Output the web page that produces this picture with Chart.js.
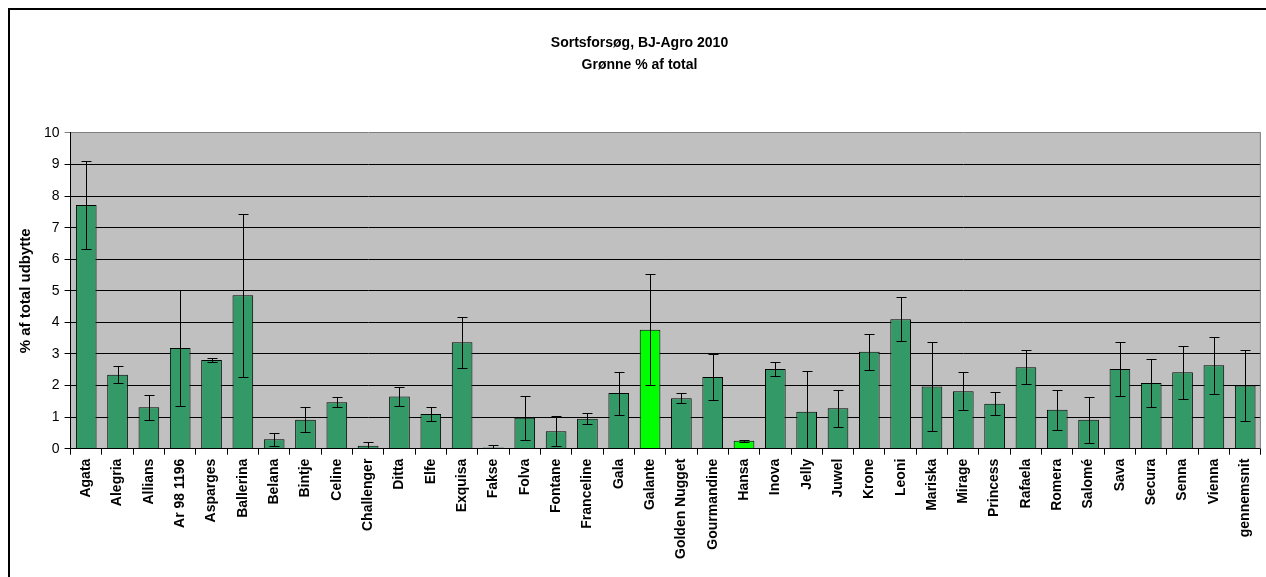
<!DOCTYPE html>
<html>
<head>
<meta charset="utf-8">
<script src="https://cdn.jsdelivr.net/npm/chart.js@4/dist/chart.umd.min.js"></script>
<style>
  html, body { margin: 0; padding: 0; background: #fff; }
  #chart-box { width: 1266px; height: 577px; }
</style>
</head>
<body>
<div id="chart-box"><canvas id="potato-chart"></canvas></div>
<script>
const varieties = ['Agata', 'Alegria', 'Allians', 'Ar 98 1196', 'Asparges', 'Ballerina', 'Belana', 'Bintje',
  'Celine', 'Challenger', 'Ditta', 'Elfe', 'Exquisa', 'Fakse', 'Folva', 'Fontane', 'Franceline', 'Gala',
  'Galante', 'Golden Nugget', 'Gourmandine', 'Hansa', 'Inova', 'Jelly', 'Juwel', 'Krone', 'Leoni',
  'Mariska', 'Mirage', 'Princess', 'Rafaela', 'Romera', 'Salomé', 'Sava', 'Secura', 'Senna', 'Vienna',
  'gennemsnit'];
const greenShare = [7.72, 2.34, 1.31, 3.19, 2.81, 4.86, 0.30, 0.92, 1.47, 0.09, 1.65, 1.10, 3.37, 0.04,
  0.98, 0.55, 0.95, 1.76, 3.77, 1.60, 2.27, 0.25, 2.52, 1.17, 1.28, 3.07, 4.10, 1.97, 1.82, 1.42, 2.58,
  1.23, 0.92, 2.52, 2.08, 2.42, 2.64, 2.00];
const greenError = [1.40, 0.27, 0.40, 1.85, 0.06, 2.58, 0.20, 0.40, 0.16, 0.12, 0.29, 0.21, 0.80, 0.07,
  0.69, 0.47, 0.18, 0.68, 1.76, 0.15, 0.74, 0.04, 0.22, 1.28, 0.58, 0.57, 0.70, 1.41, 0.60, 0.36, 0.53,
  0.64, 0.73, 0.85, 0.75, 0.84, 0.90, 1.12];
const highlighted = ['Galante', 'Hansa'];
const titleLines = ['Sortsforsøg, BJ-Agro 2010', 'Grønne % af total'];
const yTitle = '% af total udbytte';

const FONT = '"Liberation Sans", Arial, sans-serif';

// grey plot area plus the page frame lines
const plotBackground = {
  id: 'plotBackground',
  beforeDraw(chart) {
    const { ctx, chartArea, width, height } = chart;
    ctx.save();
    ctx.fillStyle = '#fff';
    ctx.fillRect(0, 0, width, height);
    ctx.fillStyle = '#c0c0c0';
    ctx.fillRect(chartArea.left, chartArea.top, chartArea.width, chartArea.height);
    ctx.fillStyle = '#000';
    ctx.fillRect(8, 8, width - 8, 2);
    ctx.fillRect(8, 8, 2, height - 8);
    ctx.restore();
  },
  beforeDatasetsDraw(chart) {
    const { ctx, chartArea } = chart;
    ctx.save();
    ctx.strokeStyle = '#808080';
    ctx.lineWidth = 1;
    ctx.beginPath();
    ctx.moveTo(chartArea.right - 0.5, chartArea.top);
    ctx.lineTo(chartArea.right - 0.5, chartArea.bottom);
    ctx.stroke();
    ctx.restore();
  }
};

const errorBars = {
  id: 'errorBars',
  afterDatasetsDraw(chart) {
    const { ctx, chartArea, scales: { y } } = chart;
    const meta = chart.getDatasetMeta(0);
    ctx.save();
    ctx.beginPath();
    ctx.rect(chartArea.left, chartArea.top, chartArea.width, chartArea.height);
    ctx.clip();
    ctx.strokeStyle = '#000';
    ctx.lineWidth = 1;
    meta.data.forEach((bar, i) => {
      const x = Math.round(bar.x) + 0.5;
      const top = Math.round(y.getPixelForValue(greenShare[i] + greenError[i])) + 0.5;
      const bottom = Math.round(y.getPixelForValue(greenShare[i] - greenError[i])) + 0.5;
      ctx.beginPath();
      ctx.moveTo(x, top);
      ctx.lineTo(x, bottom);
      ctx.moveTo(x - 5, top);
      ctx.lineTo(x + 5, top);
      ctx.moveTo(x - 5, bottom);
      ctx.lineTo(x + 5, bottom);
      ctx.stroke();
    });
    ctx.restore();
  }
};

const config = {
  type: 'bar',
  data: {
    labels: varieties,
    datasets: [{
      data: greenShare,
      backgroundColor: varieties.map(name => highlighted.includes(name) ? '#00ff00' : '#339966'),
      borderColor: '#000',
      borderWidth: 1,
      barPercentage: 0.66,
      categoryPercentage: 1
    }]
  },
  options: {
    responsive: false,
    animation: false,
    devicePixelRatio: 1,
    layout: { padding: { left: 13, right: 0, top: 10, bottom: 14 } },
    plugins: {
      legend: { display: false },
      tooltip: { enabled: false },
      title: {
        display: true,
        text: titleLines,
        color: '#000',
        font: { family: FONT, size: 14, weight: 'bold', lineHeight: 1.57 },
        padding: { top: 22, bottom: 57 }
      }
    },
    scales: {
      x: {
        offset: true,
        grid: { display: true, drawOnChartArea: false, drawTicks: true, tickLength: 6, color: '#000', offset: true },
        border: { display: true, color: '#000', width: 1 },
        ticks: {
          color: '#000',
          autoSkip: false,
          minRotation: 90,
          maxRotation: 90,
          padding: 4,
          font: { family: FONT, size: 14, weight: 'bold' }
        }
      },
      y: {
        min: 0,
        max: 10,
        grid: {
          color: ctx => ctx.tick && ctx.tick.value === 10 ? '#808080' : '#000',
          lineWidth: 1,
          tickLength: 6,
          drawTicks: true
        },
        border: { display: true, color: '#000', width: 1 },
        ticks: {
          stepSize: 1,
          color: '#000',
          padding: 5,
          font: { family: FONT, size: 14 }
        },
        title: {
          display: true,
          text: yTitle,
          color: '#000',
          padding: 4,
          font: { family: FONT, size: 15, weight: 'bold' }
        }
      }
    }
  },
  plugins: [plotBackground, errorBars]
};

const canvas = document.getElementById('potato-chart');
canvas.width = 1266;
canvas.height = 577;
new Chart(canvas.getContext('2d'), config);
</script>
</body>
</html>
